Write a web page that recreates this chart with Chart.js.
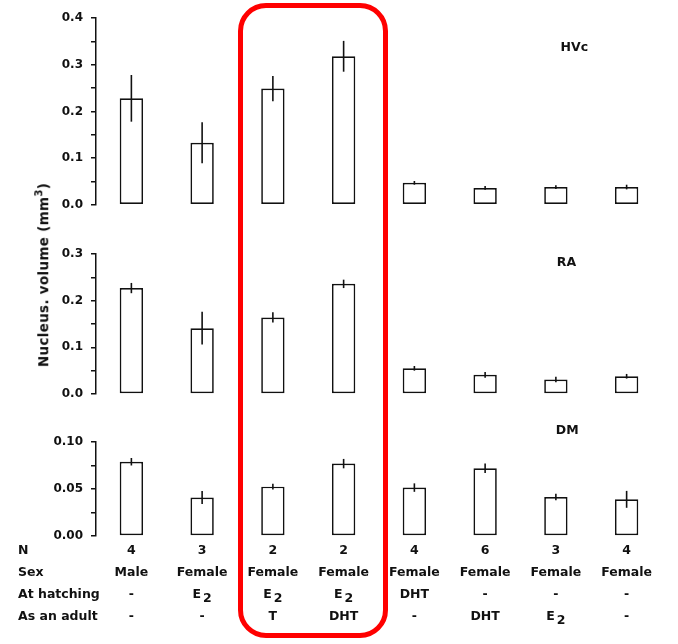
<!DOCTYPE html>
<html>
<head>
<meta charset="utf-8">
<script src="https://cdn.jsdelivr.net/npm/chart.js@4"></script>
<style>
  html, body { margin: 0; padding: 0; background: #fff; }
  body { width: 678px; height: 644px; position: relative; overflow: hidden; }
  canvas { position: absolute; left: 0; }
  #ytitle {
    position: absolute; left: 42px; top: 275px;
    transform: translate(-50%, -50%) rotate(-90deg);
    white-space: nowrap; font: bold 13.5px "DejaVu Sans", sans-serif; color: #111;
    letter-spacing: 0.3px;
  }
  #ytitle sup { font-size: 10px; }
  #box {
    position: absolute; left: 238px; top: 3px; width: 150px; height: 635px;
    box-sizing: border-box; border: 5px solid #ff0000; border-radius: 28px;
  }
</style>
</head>
<body>
<canvas id="hvc" width="678" height="220" style="top:0"></canvas>
<canvas id="ra" width="678" height="180" style="top:230px"></canvas>
<canvas id="dm" width="678" height="234" style="top:410px"></canvas>
<div id="ytitle">Nucleus. volume (mm<sup>3</sup>)</div>
<div id="box"></div>
<script>
// groups (one per bar position)
const groups = ['1', '2', '3', '4', '5', '6', '7', '8'];
const nValues = ['4', '3', '2', '2', '4', '6', '3', '4'];
const sexLabels = ['Male', 'Female', 'Female', 'Female', 'Female', 'Female', 'Female', 'Female'];
const atHatching = ['-', 'E₂', 'E₂', 'E₂', 'DHT', '-', '-', '-'];
const asAdult = ['-', '-', 'T', 'DHT', '-', 'DHT', 'E₂', '-'];

// nucleus volumes (mm3), mean and error
const hvcMeans = [0.228, 0.133, 0.249, 0.318, 0.047, 0.036, 0.038, 0.038];
const hvcErrors = [0.050, 0.044, 0.027, 0.033, 0.004, 0.004, 0.004, 0.005];
const raMeans = [0.227, 0.141, 0.164, 0.236, 0.055, 0.041, 0.031, 0.038];
const raErrors = [0.011, 0.035, 0.011, 0.009, 0.005, 0.006, 0.006, 0.005];
const dmMeans = [0.079, 0.041, 0.0525, 0.077, 0.0515, 0.072, 0.0415, 0.039];
const dmErrors = [0.004, 0.007, 0.003, 0.005, 0.0045, 0.005, 0.0035, 0.009];

const FONT = '"DejaVu Sans", sans-serif';
const INK = '#111';

const errorBars = {
  id: 'errorBars',
  afterDatasetsDraw(chart) {
    const ctx = chart.ctx, y = chart.scales.y;
    const ds = chart.data.datasets[0];
    ctx.save();
    ctx.strokeStyle = INK;
    ctx.lineWidth = 1.6;
    chart.getDatasetMeta(0).data.forEach((bar, i) => {
      ctx.beginPath();
      ctx.moveTo(bar.x, y.getPixelForValue(ds.data[i] + ds.errors[i]));
      ctx.lineTo(bar.x, y.getPixelForValue(ds.data[i] - ds.errors[i]));
      ctx.stroke();
    });
    ctx.restore();
  }
};

const panelLabel = {
  id: 'panelLabel',
  afterDraw(chart, args, opts) {
    const ctx = chart.ctx;
    ctx.save();
    ctx.font = 'bold 12.5px ' + FONT;
    ctx.fillStyle = INK;
    ctx.textAlign = 'center';
    ctx.textBaseline = 'middle';
    ctx.fillText(opts.text, chart.scales.x.getPixelForValue(opts.at), chart.scales.y.getPixelForValue(opts.level));
    ctx.restore();
  }
};

function drawLabel(ctx, text, x, y, align) {
  // E₂ style: draw the subscript digit lowered, same size
  if (text.indexOf('₂') >= 0) {
    const base = text.replace('₂', '');
    const wb = ctx.measureText(base).width, ws = ctx.measureText('2').width;
    const left = align === 'center' ? x - (wb + ws + 2) / 2 : x;
    ctx.textAlign = 'left';
    ctx.fillText(base, left, y);
    ctx.fillText('2', left + wb + 2, y + 4);
    return;
  }
  ctx.textAlign = align;
  ctx.fillText(text, x, y);
}

const tableRows = [['N', nValues], ['Sex', sexLabels], ['At hatching', atHatching], ['As an adult', asAdult]];
const infoTable = {
  id: 'infoTable',
  afterDraw(chart) {
    const ctx = chart.ctx, x = chart.scales.x;
    const top = chart.chartArea.bottom;
    ctx.save();
    ctx.font = 'bold 12.5px ' + FONT;
    ctx.fillStyle = INK;
    ctx.textBaseline = 'middle';
    tableRows.forEach((row, r) => {
      const y = top + 15 + r * 22;
      drawLabel(ctx, row[0], 18, y, 'left');
      row[1].forEach((t, i) => drawLabel(ctx, t, x.getPixelForValue(i), y, 'center'));
    });
    ctx.restore();
  }
};

function makePanel(id, means, errors, max, step, digits, label, labelAt, labelLevel, padding, extra) {
  return new Chart(document.getElementById(id), {
    type: 'bar',
    data: {
      labels: groups,
      datasets: [{
        data: means,
        errors: errors,
        backgroundColor: '#fff',
        borderColor: INK,
        borderWidth: 1.7,
        borderSkipped: false,
        barPercentage: 0.33,
        categoryPercentage: 1
      }]
    },
    options: {
      responsive: false,
      animation: false,
      layout: { padding: padding },
      plugins: {
        legend: { display: false },
        tooltip: { enabled: false },
        panelLabel: { text: label, at: labelAt, level: labelLevel }
      },
      scales: {
        x: { display: false },
        y: {
          min: 0, max: max,
          afterFit(s) { s.width = 96; },
          border: { display: true, color: INK, width: 1.5 },
          grid: { drawOnChartArea: false, drawTicks: true, tickLength: 5, color: INK, lineWidth: 1.5 },
          ticks: {
            stepSize: step, autoSkip: false, padding: 8, color: INK,
            font: { family: FONT, size: 12, weight: 'bold' },
            callback: v => Math.round(v / step) % 2 === 0 ? v.toFixed(digits) : ''
          }
        }
      }
    },
    plugins: [errorBars, panelLabel].concat(extra || [])
  });
}

makePanel('hvc', hvcMeans, hvcErrors, 0.4, 0.05, 1, 'HVc', 6.26, 0.337,
  { top: 18, bottom: 14, left: 0, right: 16 });
makePanel('ra', raMeans, raErrors, 0.3, 0.05, 1, 'RA', 6.15, 0.281,
  { top: 24, bottom: 16, left: 0, right: 16 });
makePanel('dm', dmMeans, dmErrors, 0.1, 0.025, 2, 'DM', 6.16, 0.112,
  { top: 32, bottom: 108, left: 0, right: 16 }, [infoTable]);
</script>
</body>
</html>
